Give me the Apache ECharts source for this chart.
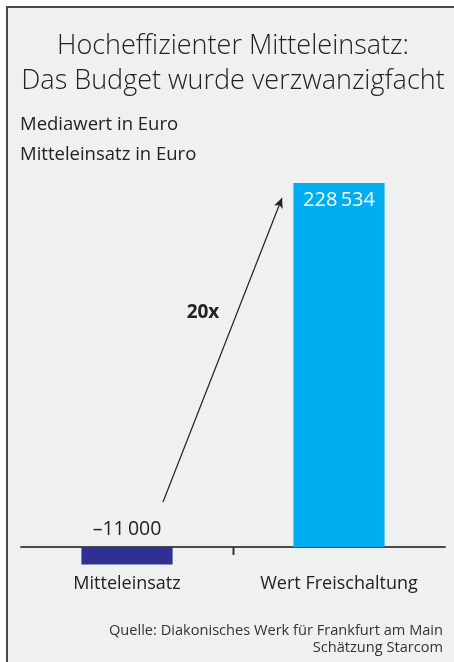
<!DOCTYPE html>
<html>
<head>
<meta charset="utf-8">
<script src="https://cdn.jsdelivr.net/npm/echarts@6/dist/echarts.min.js"></script>
<style>
  html, body { margin: 0; padding: 0; background: #ffffff; }
  #chart { width: 454px; height: 662px; }
</style>
</head>
<body>
<div id="chart"></div>
<script>
const categories = ['Mitteleinsatz', 'Wert Freischaltung'];
const values = [-11000, 228534];
const valueLabels = ['\u201311\u2009000', '228\u2009534'];
const barColors = ['#2e3192', '#00aeef'];
const titleText = 'Hocheffizienter Mitteleinsatz:\nDas Budget wurde verzwanzigfacht';
const subtitleText = 'Mediawert in Euro\nMitteleinsatz in Euro';
const sourceText = 'Quelle: Diakonisches Werk f\u00fcr Frankfurt am Main\nSch\u00e4tzung Starcom';
const arrowLabel = '20x';

const FONT = '"Open Sans", "Noto Sans", sans-serif';
const chart = echarts.init(document.getElementById('chart'), null, { renderer: 'canvas' });

const option = {
  animation: false,
  backgroundColor: '#eef1ef',
  textStyle: { fontFamily: FONT },
  title: [
    {
      text: titleText,
      left: 233, top: 29, textAlign: 'center', padding: 0,
      textStyle: { fontFamily: FONT, fontSize: 27, fontWeight: 300, color: '#222', lineHeight: 35 }
    },
    {
      text: subtitleText,
      left: 20, top: 110, padding: 0,
      textStyle: { fontFamily: FONT, fontSize: 18.5, fontWeight: 'normal', color: '#222', lineHeight: 30 }
    },
    {
      text: sourceText,
      left: 443, top: 622, padding: 0, textAlign: 'right',
      textStyle: { fontFamily: FONT, fontSize: 14.6, fontWeight: 'normal', color: '#333', lineHeight: 17, align: 'right' }
    }
  ],
  grid: { left: 21, right: 9, top: 183, bottom: 83.1, containLabel: false },
  xAxis: {
    type: 'category',
    data: categories,
    axisLine: { onZero: true, lineStyle: { color: '#4a4a4a', width: 2 } },
    axisTick: { show: false },
    axisLabel: { color: '#222', fontSize: 18, fontFamily: FONT, margin: -4 },
    splitLine: { show: false }
  },
  yAxis: {
    type: 'value',
    min: -20000, max: 228534,
    show: false,
    splitLine: { show: false }
  },
  series: [{
    type: 'bar',
    barWidth: '43%',
    data: values.map((v, i) => ({
      value: v,
      itemStyle: { color: barColors[i] },
      label: i === 0
        ? { show: true, position: 'top', distance: 8, color: '#222', fontSize: 19.5, fontFamily: FONT, formatter: () => valueLabels[i] }
        : { show: true, position: 'insideTop', distance: 7, color: '#fff', fontSize: 20, fontFamily: FONT, formatter: () => valueLabels[i] }
    })),
    markLine: {
      silent: true,
      symbol: ['none', 'arrow'],
      symbolSize: [7, 10],
      lineStyle: { type: 'solid', color: '#222', width: 1.2 },
      label: { show: false },
      data: [[{ x: 163, y: 502 }, { x: 282, y: 198 }]]
    }
  }]
};
chart.setOption(option);

const p0 = chart.convertToPixel({ xAxisIndex: 0 }, 0);
const p1 = chart.convertToPixel({ xAxisIndex: 0 }, 1);
const zeroY = chart.convertToPixel({ yAxisIndex: 0 }, 0);
const tickX = Math.round((p0 + p1) / 2) + 0.5;

chart.setOption({
  graphic: [
    { type: 'rect', shape: { x: 0, y: 0, width: 454, height: 6 }, style: { fill: '#ffffff' }, z: 100 },
    { type: 'rect', shape: { x: 0, y: 0, width: 6, height: 662 }, style: { fill: '#ffffff' }, z: 100 },
    { type: 'line', shape: { x1: 7, y1: 6, x2: 7, y2: 662 }, style: { stroke: '#4a4a4a', lineWidth: 2 }, z: 101 },
    { type: 'line', shape: { x1: 6, y1: 7, x2: 454, y2: 7 }, style: { stroke: '#4a4a4a', lineWidth: 2 }, z: 101 },
    { type: 'line', shape: { x1: tickX, y1: zeroY, x2: tickX, y2: zeroY + 8 }, style: { stroke: '#333', lineWidth: 2 }, z: 101 },
    { type: 'text', x: 203, y: 313, style: { text: arrowLabel, font: 'bold 19px ' + FONT, fill: '#222', align: 'center', verticalAlign: 'middle' }, z: 101 }
  ]
});
</script>
</body>
</html>
